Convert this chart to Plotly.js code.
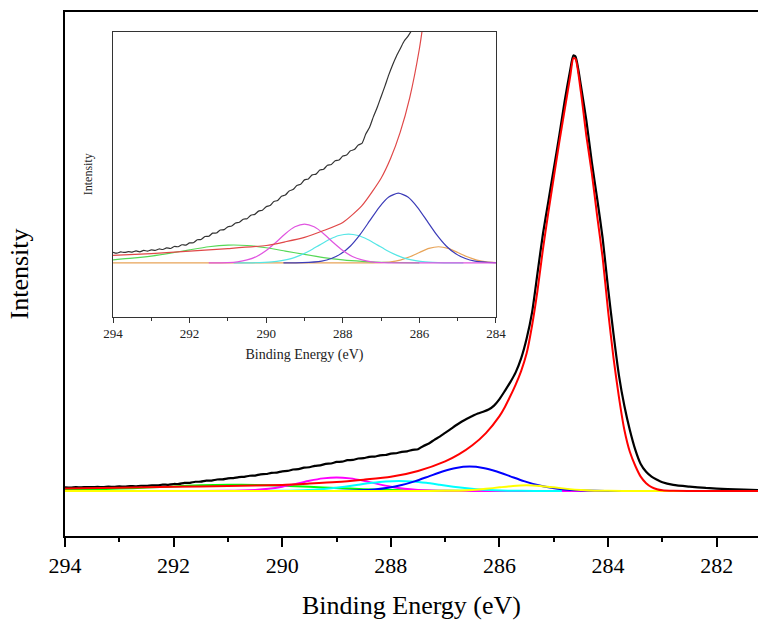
<!DOCTYPE html>
<html>
<head>
<meta charset="utf-8">
<script src="https://cdn.plot.ly/plotly-3.0.1.min.js"></script>
<style>html,body{margin:0;padding:0;background:#fff;}#chart{width:758px;height:621px;}</style>
</head>
<body>
<div id="chart"></div>
<script>
// ---- data (binding energy in eV, intensity in arbitrary units, peak = 100) ----
const blackE = [294.0,293.9,293.8,293.7,293.6,293.5,293.4,293.3,293.2,293.1,
  293.0,292.9,292.8,292.7,292.6,292.5,292.4,292.3,292.2,292.1,
  292.0,291.9,291.8,291.7,291.6,291.5,291.4,291.3,291.2,291.1,
  291.0,290.9,290.8,290.7,290.6,290.5,290.4,290.3,290.2,290.1,
  290.0,289.9,289.8,289.7,289.6,289.5,289.4,289.3,289.2,289.1,
  289.0,288.9,288.8,288.7,288.6,288.5,288.4,288.3,288.2,288.1,
  288.0,287.9,287.8,287.7,287.6,287.5,287.4,287.3,287.2,287.1,
  287.0,286.9,286.8,286.7,286.6,286.5,286.4,286.3,286.2,286.1,
  286.0,285.9,285.8,285.7,285.6,285.5,285.4,285.3,285.2,285.1,
  285.0,284.9,284.8,284.7,284.64,284.6,284.5,284.4,284.3,284.2,
  284.1,284.0,283.9,283.8,283.7,283.6,283.5,283.4,283.3,283.2,
  283.1,283.0,282.8,282.5,282.2,281.8,281.5,281.24];
const blackY = [0.85,0.78,0.88,0.84,0.90,0.87,0.96,0.89,1.00,0.95,
  1.05,1.00,1.12,1.08,1.21,1.16,1.32,1.30,1.46,1.43,
  1.61,1.62,1.86,1.88,2.12,2.14,2.39,2.40,2.64,2.67,
  2.91,2.96,3.20,3.26,3.51,3.55,3.83,3.90,4.16,4.23,
  4.51,4.61,4.93,5.02,5.35,5.45,5.78,5.89,6.22,6.32,
  6.67,6.74,7.07,7.13,7.46,7.53,7.84,7.90,8.20,8.26,
  8.58,8.66,9.00,9.10,9.46,9.60,10.35,10.9,11.75,12.5,
  13.35,14.2,15.1,15.9,16.6,17.2,17.8,18.2,18.7,19.6,
  21.1,23.0,25.0,27.3,30.5,35,41,50,59,66.5,
  74,81.5,89.5,96.5,100,99.7,93,85,75.5,67,
  58,46.5,36,26.5,19.5,14,9.5,6.2,4.4,3.3,
  2.6,2.0,1.4,1.0,0.7,0.45,0.3,0.2];

const redE = [294.0,293.0,292.0,291.0,290.0,289.5,289.0,288.5,288.0,287.5,
  287.0,286.75,286.5,286.25,286.0,285.9,285.8,285.7,285.6,285.5,285.4,
  285.3,285.2,285.1,285.0,284.9,284.8,284.7,284.64,284.6,284.5,
  284.4,284.3,284.2,284.1,284.0,283.9,283.8,283.7,283.6,283.5,
  283.4,283.3,283.2,283.1,283.0,282.8,282.5,281.24];
const redY = [0.6,0.75,0.95,1.15,1.4,1.7,2.05,2.6,3.25,4.6,
  6.8,8.4,10.5,13.3,17.2,19.3,21.8,24.5,27.6,31.6,38,
  46,55.5,64,72,80,87.5,95,99.4,99.2,91.5,
  81.5,73,63,53.5,41.3,30.5,21.5,14,9,5.8,
  3.3,1.8,0.9,0.4,0.15,0.03,0,0];

const greenE = [294.0,293.5,293.0,292.5,292.0,291.5,291.0,290.5,290.0,289.5,289.0,288.5,288.0,287.5,287.0,286.5,286.0];
const greenY = [0.25,0.38,0.55,0.78,1.05,1.30,1.43,1.40,1.22,0.95,0.68,0.43,0.24,0.12,0.05,0.02,0];

const magentaE = [291.5,291.0,290.75,290.5,290.25,290.0,289.75,289.5,289.25,289.0,288.75,288.5,288.25,288.0,287.75,287.5,287.25,287.0,286.5,281.24];
const magentaY = [0,0.03,0.09,0.24,0.52,1.00,1.64,2.35,2.90,3.12,2.90,2.35,1.64,1.00,0.52,0.24,0.09,0.03,0,0];

const cyanE = [290.85,290.35,289.85,289.6,289.35,289.1,288.85,288.6,288.35,288.1,287.85,287.6,287.35,287.1,286.85,286.6,286.35,286.1,285.85,285.35,284.85];
const cyanY = [0,0.01,0.08,0.18,0.35,0.63,1.00,1.45,1.88,2.20,2.32,2.20,1.88,1.45,1.00,0.63,0.35,0.18,0.08,0.01,0];

const blueE = [289.55,289.05,288.55,288.3,288.05,287.8,287.55,287.3,287.05,286.8,286.55,286.3,286.05,285.8,285.55,285.3,285.05,284.8,284.55,284.05,283.55];
const blueY = [0,0.02,0.15,0.35,0.73,1.36,2.27,3.37,4.47,5.29,5.6,5.29,4.47,3.37,2.27,1.36,0.73,0.35,0.15,0.02,0];

const yellowE = [294.0,287.5,287.0,286.75,286.5,286.25,286.0,285.75,285.5,285.25,285.0,284.75,284.5,284.25,284.0,283.5,281.24];
const yellowY = [0,0,0.03,0.08,0.23,0.49,0.84,1.17,1.30,1.17,0.84,0.49,0.23,0.08,0.03,0,0];

const mainTicks = [294,292,290,288,286,284,282];
const insetTicks = [294,292,290,288,286,284];

// ---- traces ----
function tr(x, y, color, width, inset) {
  return {x: x, y: y, type: 'scatter', mode: 'lines', hoverinfo: 'skip',
    line: {color: color, width: width, shape: 'spline', smoothing: 0.6},
    xaxis: inset ? 'x2' : 'x', yaxis: inset ? 'y2' : 'y'};
}
const data = [
  tr(greenE, greenY, '#00ff00', 2, false),
  tr(magentaE, magentaY, '#ff00ff', 2, false),
  tr(cyanE, cyanY, '#00ffff', 2, false),
  tr(blueE, blueY, '#0000ff', 2, false),
  tr(yellowE, yellowY, '#ffff00', 2, false),
  tr(blackE, blackY, '#000000', 2.2, false),
  tr(redE, redY, '#ff0000', 2, false),
  // inset
  tr(yellowE, yellowY, '#e8a458', 1.2, true),
  tr(greenE, greenY, '#55d855', 1.2, true),
  tr(cyanE, cyanY, '#55e6e6', 1.2, true),
  tr(blueE, blueY, '#3c3cb8', 1.2, true),
  tr(magentaE, magentaY, '#e055e0', 1.2, true),
  tr(blackE, blackY, '#333333', 1.2, true),
  tr(redE, redY, '#e04848', 1.2, true)
];

const serif = 'Liberation Serif';
const layout = {
  width: 758, height: 621,
  margin: {l: 65, r: 0, t: 12, b: 85},
  paper_bgcolor: '#ffffff', plot_bgcolor: '#ffffff',
  showlegend: false,
  font: {family: serif, color: '#000000'},
  xaxis: {
    range: [294, 281.24], autorange: false,
    tickmode: 'array', tickvals: mainTicks, ticktext: mainTicks.map(String),
    ticks: 'outside', ticklen: 9, tickwidth: 2, tickcolor: '#000',
    minor: {dtick: 1, tick0: 294, ticks: 'outside', ticklen: 4, tickwidth: 2, tickcolor: '#000'},
    showline: true, linewidth: 2, linecolor: '#000', mirror: true,
    showgrid: false, zeroline: false,
    tickfont: {size: 22, family: serif}, ticklabelstandoff: 0,
    title: {text: 'Binding Energy (eV)', font: {size: 26, family: serif}, standoff: 18},
    automargin: false
  },
  yaxis: {
    range: [-10.33, 109.97], autorange: false,
    showline: true, linewidth: 2, linecolor: '#000',
    showticklabels: false, ticks: '', showgrid: false, zeroline: false,
    title: {text: 'Intensity', font: {size: 26, family: serif}, standoff: 27},
    automargin: false
  },
  xaxis2: {
    domain: [0.0693, 0.6219], anchor: 'y2',
    range: [294, 284], autorange: false,
    tickmode: 'array', tickvals: insetTicks, ticktext: insetTicks.map(String),
    ticks: 'outside', ticklen: 5, tickwidth: 1, tickcolor: '#333',
    minor: {dtick: 1, tick0: 294, ticks: 'outside', ticklen: 3, tickwidth: 1, tickcolor: '#333'},
    showline: true, linewidth: 1, linecolor: '#333', mirror: true,
    showgrid: false, zeroline: false,
    tickfont: {size: 13, family: serif, color: '#222'},
    title: {text: 'Binding Energy (eV)', font: {size: 14, family: serif, color: '#222'}, standoff: 8},
    automargin: false
  },
  yaxis2: {
    domain: [0.4185, 0.9624], anchor: 'x2',
    range: [-4.32, 18.57], autorange: false,
    showline: true, linewidth: 1, linecolor: '#333', mirror: true,
    showticklabels: false, ticks: '', showgrid: false, zeroline: false,
    title: {text: 'Intensity', font: {size: 12, family: serif, color: '#222'}, standoff: 16},
    automargin: false
  }
};

Plotly.newPlot('chart', data, layout, {staticPlot: true, displayModeBar: false});
</script>
</body>
</html>
